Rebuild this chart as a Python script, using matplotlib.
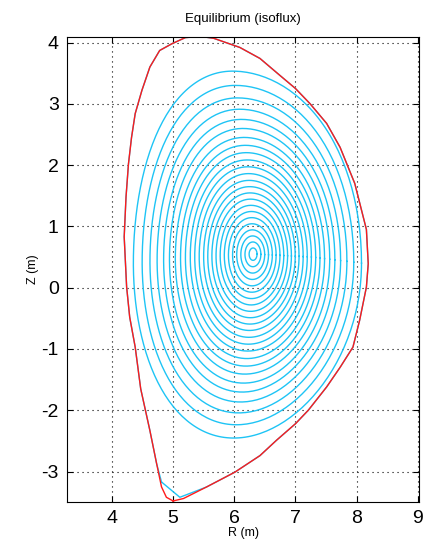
import numpy as np
import matplotlib
matplotlib.use("Agg")
import matplotlib.pyplot as plt

plt.rcParams["axes.unicode_minus"] = False

# --- plasma boundary (red), starting at the X-point ---
bnd_R = [5.00, 5.17, 5.55, 6.01, 6.42, 6.69, 7.00, 7.21, 7.51, 7.73, 7.94, 8.05,
         8.16, 8.19, 8.16, 7.97, 7.73, 7.51, 7.24, 7.00, 6.75, 6.42, 6.09, 5.66,
         5.44, 5.20, 4.98, 4.78, 4.62, 4.49, 4.38, 4.32, 4.27, 4.23, 4.20, 4.24,
         4.29, 4.38, 4.47, 4.62, 4.73, 4.81, 4.89, 5.00]
bnd_Z = [-3.48, -3.44, -3.25, -3.01, -2.74, -2.49, -2.22, -2.00, -1.62, -1.30, -0.97, -0.53,
         0.01, 0.39, 0.95, 1.70, 2.29, 2.68, 3.00, 3.25, 3.46, 3.74, 3.92, 4.07,
         4.10, 4.08, 3.98, 3.87, 3.60, 3.22, 2.84, 2.45, 2.02, 1.48, 0.83, 0.01,
         -0.48, -0.97, -1.65, -2.33, -2.87, -3.25, -3.42, -3.48]

# outermost cyan surface leaves the boundary near the X-point
xcut_R = [4.81, 5.11, 5.50]
xcut_Z = [-3.17, -3.42, -3.27]

# --- nested flux surfaces: minor radius of each surface (m) ---
minor_r = [0.065, 0.13, 0.195, 0.26, 0.325, 0.39, 0.455, 0.52, 0.585, 0.65,
           0.715, 0.78, 0.85, 0.92, 0.99, 1.065, 1.14, 1.22, 1.31, 1.40,
           1.50, 1.61, 1.73, 1.865]

# shape anchors vs minor radius (axis -> last closed inner surface)
anchor_a = [0.0, 1.0, 1.865]
anchor_Rc = [6.31, 6.27, 6.215]
anchor_Zc = [0.55, 0.50, 0.40]
anchor_kup = [1.55, 1.60, 1.68]
anchor_kdn = [1.55, 1.55, 1.53]
anchor_dup = [0.0, 0.06, 0.13]
anchor_ddn = [0.0, 0.05, 0.12]
anchor_sq = [0.0, 0.02, 0.05]   # upper-outer squareness

CYAN = "#1ec4f5"
RED = "#ff1a1a"


def surface(a, n=240):
    th = np.linspace(0, 2 * np.pi, n)
    rc = np.interp(a, anchor_a, anchor_Rc)
    zc = np.interp(a, anchor_a, anchor_Zc)
    up = np.sin(th) >= 0
    k = np.where(up, np.interp(a, anchor_a, anchor_kup), np.interp(a, anchor_a, anchor_kdn))
    d = np.where(up, np.interp(a, anchor_a, anchor_dup), np.interp(a, anchor_a, anchor_ddn))
    sq = np.where(th <= np.pi / 2, np.interp(a, anchor_a, anchor_sq), 0.0)
    R = rc + a * np.cos(th + np.arcsin(d) * np.sin(th))
    Z = zc + k * a * np.sin(th + sq * np.sin(2 * th))
    return R, Z


fig = plt.figure(figsize=(4.23, 5.42), dpi=100)
ax = fig.add_axes([67 / 423, 1 - 502 / 542, 352 / 423, 465 / 542])

for a in minor_r:
    R, Z = surface(a)
    ax.plot(R, Z, color=CYAN, lw=1.0)

# outermost cyan: boundary with the X-point corner cut
sepR = xcut_R + bnd_R[2:-3] + [xcut_R[0]]
sepZ = xcut_Z + bnd_Z[2:-3] + [xcut_Z[0]]
ax.plot(sepR, sepZ, color=CYAN, lw=1.0)
ax.plot(bnd_R, bnd_Z, color=RED, lw=1.0)

ax.set_xlim(3.265, 9.02)
ax.set_ylim(-3.497, 4.09)
ax.set_xticks([4, 5, 6, 7, 8, 9])
ax.set_yticks([-3, -2, -1, 0, 1, 2, 3, 4])
ax.grid(True, color="black", linestyle=(0, (1, 3.5)), linewidth=0.8)
ax.tick_params(direction="in", top=True, right=True, length=4, width=0.8,
               labelsize=14, pad=6)
for lab in ax.get_xticklabels() + ax.get_yticklabels():
    lab.set_family("Liberation Sans")
for s in ax.spines.values():
    s.set_linewidth(0.8)

ax.set_title("Equilibrium (isoflux)", fontsize=9.5, pad=11, family="Liberation Sans")
ax.set_xlabel("R (m)", fontsize=9, labelpad=0, family="Liberation Sans")
ax.set_ylabel("Z (m)", fontsize=9, labelpad=2, family="Liberation Sans")

fig.savefig("out.png", dpi=100)
